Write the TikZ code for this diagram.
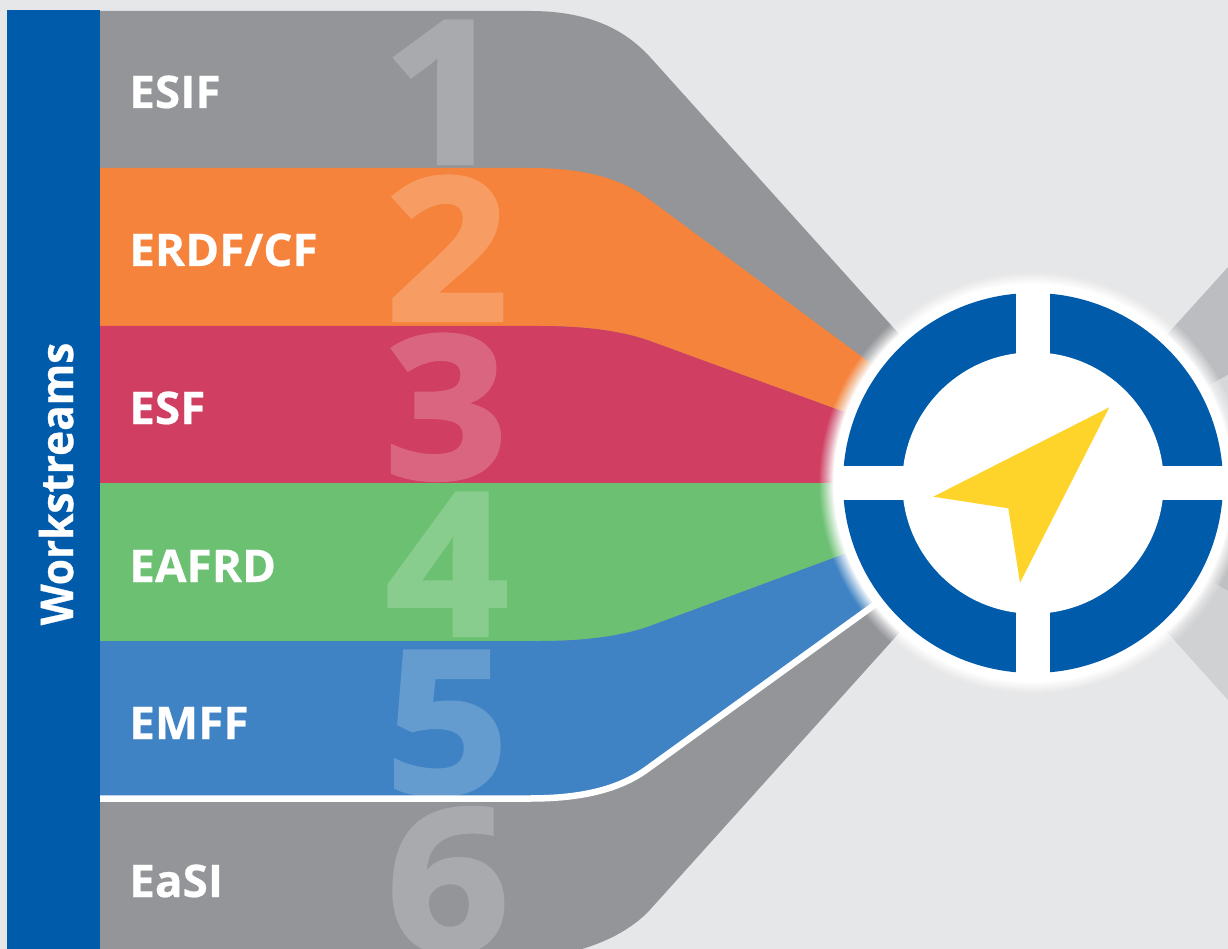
\documentclass[tikz,border=0pt]{standalone}
\usepackage{fontspec}
\setmainfont{Open Sans}
\newfontfamily\labf{Open Sans}[BoldFeatures={FakeBold=0.5,FakeStretch=1.02}]
\newfontfamily\wsf{Open Sans}[BoldFeatures={FakeBold=0.7,FakeStretch=0.94}]
\newfontfamily\digf{Open Sans}[BoldFeatures={FakeBold=2.2,FakeStretch=1.08}]
\definecolor{bgc}{HTML}{E6E7E9}
\definecolor{barc}{HTML}{005BAA}
\definecolor{grayc}{HTML}{939598}
\definecolor{orangec}{HTML}{F5833C}
\definecolor{redc}{HTML}{D03E61}
\definecolor{greenc}{HTML}{6BC072}
\definecolor{bluec}{HTML}{3F83C4}
\definecolor{yellowc}{HTML}{FFD42A}
\definecolor{rA}{HTML}{BCBDC0}
\definecolor{rB}{HTML}{D6D7D9}
\definecolor{rC}{HTML}{BFC0C2}
\definecolor{rD}{HTML}{D0D1D3}
\tikzset{
  lab/.style={anchor=base west,inner sep=0pt,text=white,font=\labf\fontsize{45}{45}\selectfont\bfseries},
  dig/.style={anchor=base,inner sep=0pt,font=\digf\fontsize{198}{198}\selectfont\bfseries},
}
\begin{document}
\begin{tikzpicture}[x=1pt,y=-1pt]
\useasboundingbox (0,0) rectangle (1228,949);
\fill[bgc] (0,0) rectangle (1228,949);
% right-hand faded bands
\fill[rA] (1228,267) -- (1033,483) -- (1228,375) -- cycle;
\fill[rB] (1228,375) -- (1033,483) -- (1228,483) -- cycle;
\fill[rC] (1228,483) -- (1033,483) -- (1228,591) -- cycle;
\fill[rD] (1228,591) -- (1033,483) -- (1228,700) -- cycle;
% left-hand bands
\fill[grayc] (100,11) -- (530,11) .. controls (590,11) and (625,30) .. (650,57) -- (900,335) -- (1033,483)
  -- (900,632) -- (648,912) .. controls (630,930) and (605,943) .. (575,951) -- (100,951) -- cycle;
\fill[orangec] (100,168) -- (530,168) .. controls (590,168) and (625,181) .. (650,200) -- (873,365) -- (1033,483)
  -- (847,413) -- (650,341) .. controls (625,332) and (590,326) .. (540,326) -- (100,326) -- cycle;
\fill[redc] (100,326) -- (540,326) .. controls (590,326) and (625,332) .. (650,341) -- (847,413) -- (1033,483) -- (100,483) -- cycle;
\fill[greenc] (100,483) -- (1033,483) -- (847,553) -- (650,626) .. controls (625,635) and (590,641) .. (540,641) -- (100,641) -- cycle;
\fill[bluec] (100,641) -- (540,641) .. controls (590,641) and (625,635) .. (650,626) -- (847,553) -- (1033,483)
  -- (877,603) -- (650,767) .. controls (625,786) and (590,798) .. (530,798) -- (100,798) -- cycle;
% digits
\node[dig,text=white!20!grayc] (d1) at (444,163) {1};
\node[dig,text=white!20!orangec] (d2) at (447,320) {2};
\node[dig,text=white!20!redc] (d3) at (446,478) {3};
\node[dig,text=white!20!greenc] (d4) at (447,635) {4};
\node[dig,text=white!20!bluec] (d5) at (447,793) {5};
\node[dig,text=white!20!grayc] (d6) at (448,951) {6};
% white rule
\draw[white,line width=6.5pt] (99,798.5) -- (530,798.5) .. controls (590,798.5) and (625,786) .. (650,767) -- (877,603);
% bar
\fill[barc] (7,10) rectangle (100,949);
\node[anchor=base,inner sep=0pt,text=white,rotate=90,font=\wsf\fontsize{45}{45}\selectfont\bfseries] (ws) at (73,484) {Workstreams};
% labels
\node[lab] (l1) at (129,108) {ESIF};
\node[lab] (l2) at (129,266) {ERDF/CF};
\node[lab] (l3) at (129,424) {ESF};
\node[lab] (l4) at (129,582) {EAFRD};
\node[lab] (l5) at (129,739) {EMFF};
\node[lab] (l6) at (129,897) {EaSI};
% halo: white fading out from r=199 to r=214
\foreach \k in {1,...,30}{
  \pgfmathsetmacro{\rr}{214-(\k-1)*0.5}
  \pgfmathsetmacro{\aa}{1/(31-\k)}
  \fill[white,fill opacity=\aa] (1033,483) circle[radius=\rr];
}
\fill[white] (1033,483) circle[radius=199];
% compass
\fill[barc] (1033,483) circle[radius=190];
\fill[white] (1033,483) circle[radius=130.7];
\fill[white] (1016.3,285) rectangle (1049.7,681);
\fill[white] (835,466.3) rectangle (1231,499.7);
\fill[yellowc] (1109.3,407.3) -- (933.3,496.7) -- (1008.3,508.3) -- (1020,582.7) -- cycle;
\end{tikzpicture}
\end{document}
